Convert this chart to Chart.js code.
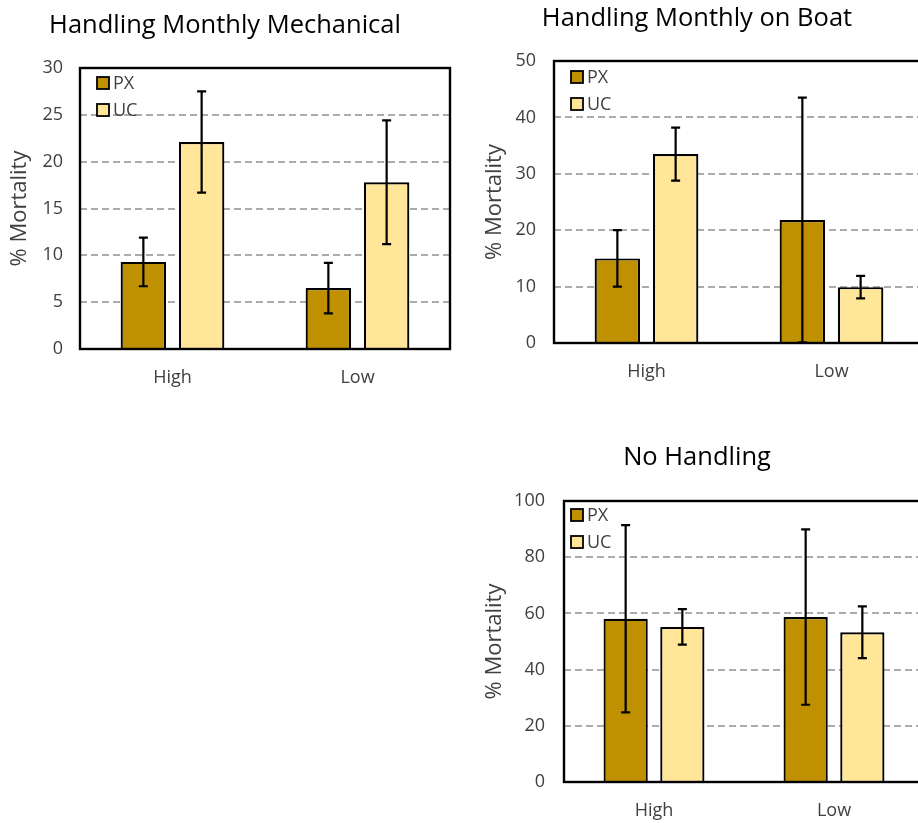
<!DOCTYPE html>
<html>
<head>
<meta charset="utf-8">
<script src="https://cdn.jsdelivr.net/npm/chart.js@4"></script>
<style>
  html, body { margin: 0; padding: 0; background: #fff; overflow: hidden; }
  body { width: 918px; height: 823px; position: relative; }
  canvas { position: absolute; }
</style>
</head>
<body>
<canvas id="mech" width="460" height="400" style="left:0;top:0"></canvas>
<canvas id="boat" width="470" height="400" style="left:470px;top:0"></canvas>
<canvas id="none" width="470" height="400" style="left:470px;top:430px"></canvas>
<script>
// data
const categories = ['High', 'Low'];
const seriesNames = ['PX', 'UC'];

const mechPX = [9.3, 6.5];
const mechPXErr = [2.6, 2.7];
const mechUC = [22.1, 17.8];
const mechUCErr = [5.4, 6.6];

const boatPX = [15.0, 21.8];
const boatPXErr = [5.0, 21.7];
const boatUC = [33.5, 9.9];
const boatUCErr = [4.7, 2.0];

const nohPX = [58.1, 58.7];
const nohPXErr = [33.3, 31.2];
const nohUC = [55.2, 53.3];
const nohUCErr = [6.3, 9.2];

const pxColor = '#BF9000';
const ucColor = '#FFE699';
const FONT = "'Open Sans', sans-serif";

// error bars + plot frame + inside legend
const extras = {
  id: 'extras',
  afterDatasetsDraw(chart, args, opts) {
    const ctx = chart.ctx;
    const y = chart.scales.y;
    ctx.save();
    ctx.strokeStyle = '#000';
    ctx.lineWidth = 2.2;
    chart.data.datasets.forEach((ds, i) => {
      const meta = chart.getDatasetMeta(i);
      meta.data.forEach((bar, j) => {
        const v = ds.data[j], e = ds.errors[j];
        const top = y.getPixelForValue(v + e);
        const bot = y.getPixelForValue(Math.max(v - e, 0));
        ctx.beginPath();
        ctx.moveTo(bar.x, top); ctx.lineTo(bar.x, bot);
        ctx.moveTo(bar.x - 4.5, top); ctx.lineTo(bar.x + 4.5, top);
        ctx.moveTo(bar.x - 4.5, bot); ctx.lineTo(bar.x + 4.5, bot);
        ctx.stroke();
      });
    });
    const a = chart.chartArea;
    ctx.lineWidth = 2.4;
    ctx.strokeRect(a.left, a.top, a.right - a.left, a.bottom - a.top);

    // legend in the top-left corner of the plot
    ctx.font = '18px ' + FONT;
    ctx.textBaseline = 'middle';
    ctx.lineWidth = 1.8;
    chart.data.datasets.forEach((ds, i) => {
      const cx = a.left + opts.dx;
      const cy = a.top + opts.dy + i * 27;
      ctx.fillStyle = ds.backgroundColor;
      ctx.fillRect(cx, cy - 6, 12, 12);
      ctx.strokeStyle = '#000';
      ctx.strokeRect(cx, cy - 6, 12, 12);
      ctx.fillStyle = '#404040';
      ctx.fillText(ds.label, cx + 16, cy + 1);
    });
    ctx.restore();
  }
};

function makeChart(id, title, px, pxErr, uc, ucErr, cfg) {
  return new Chart(document.getElementById(id), {
    type: 'bar',
    data: {
      labels: categories,
      datasets: [
        { label: seriesNames[0], data: px, errors: pxErr, backgroundColor: pxColor,
          borderColor: '#000', borderWidth: 2.2 },
        { label: seriesNames[1], data: uc, errors: ucErr, backgroundColor: ucColor,
          borderColor: '#000', borderWidth: 2.2 }
      ]
    },
    options: {
      responsive: false,
      animation: false,
      devicePixelRatio: 1,
      categoryPercentage: 0.63,
      barPercentage: 0.78,
      layout: { padding: { left: 0, right: cfg.padRight, top: 0, bottom: 0 } },
      plugins: {
        legend: { display: false },
        tooltip: { enabled: false },
        title: {
          display: true, text: title, color: '#000',
          font: { family: FONT, size: 25.5, weight: 'normal' },
          padding: cfg.titlePad
        },
        extras: { dx: cfg.legX, dy: cfg.legY }
      },
      scales: {
        x: {
          grid: { display: false, drawTicks: false },
          border: { display: false },
          ticks: { color: '#404040', font: { family: FONT, size: 18 }, padding: 18 },
          afterFit: s => { s.height = cfg.xHeight; }
        },
        y: {
          min: 0, max: cfg.max,
          ticks: { stepSize: cfg.step, color: '#404040', font: { family: FONT, size: 18 }, padding: cfg.tickPad },
          grid: {
            drawTicks: false, lineWidth: 2,
            color: c => (c.tick.value === 0 || c.tick.value === cfg.max) ? 'rgba(0,0,0,0)' : '#ABABAB'
          },
          border: { display: false, dash: [7, 4] },
          title: {
            display: true, text: '% Mortality', color: '#404040',
            font: { family: FONT, size: 22 }, padding: { top: cfg.yTitlePad, bottom: 0 }
          },
          afterFit: s => { s.width = cfg.yWidth; }
        }
      }
    },
    plugins: [extras]
  });
}

makeChart('mech', 'Handling Monthly Mechanical', mechPX, mechPXErr, mechUC, mechUCErr, {
  max: 30, step: 5, yWidth: 80, xHeight: 51, padRight: 10, tickPad: 17,
  titlePad: { top: 10, bottom: 27.4 }, yTitlePad: 6.5, legX: 17, legY: 15
});
makeChart('boat', 'Handling Monthly on Boat', boatPX, boatPXErr, boatUC, boatUCErr, {
  max: 50, step: 10, yWidth: 84, xHeight: 57, padRight: 16, tickPad: 18,
  titlePad: { top: 3.5, bottom: 26.9 }, yTitlePad: 11.5, legX: 17, legY: 16
});
makeChart('none', 'No Handling', nohPX, nohPXErr, nohUC, nohUCErr, {
  max: 100, step: 20, yWidth: 94, xHeight: 48, padRight: 16, tickPad: 19,
  titlePad: { top: 12.5, bottom: 27.9 }, yTitlePad: 11.5, legX: 7, legY: 14
});
</script>
</body>
</html>
